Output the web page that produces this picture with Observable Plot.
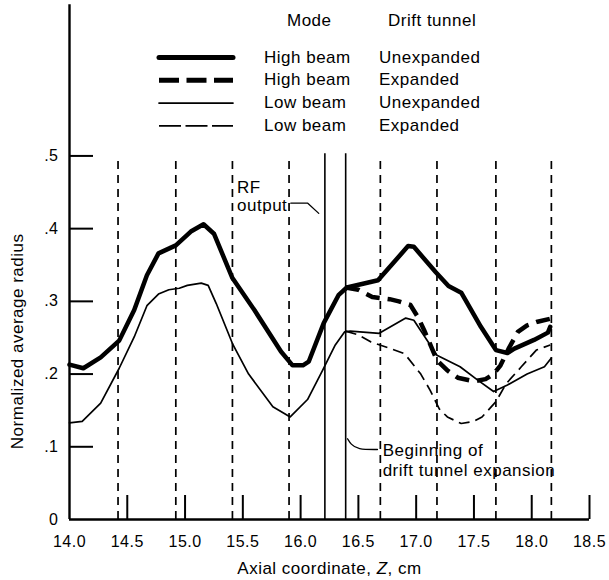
<!DOCTYPE html>
<html>
<head>
<meta charset="utf-8">
<script src="https://cdn.jsdelivr.net/npm/d3@7"></script>
<script src="https://cdn.jsdelivr.net/npm/@observablehq/plot@0.6"></script>
<style>
  html, body { margin: 0; padding: 0; background: #fff; }
  #chart { width: 609px; height: 580px; }
</style>
</head>
<body>
<div id="chart"></div>
<script>
// ---------- data ----------
const xTickValues = [14.0, 14.5, 15.0, 15.5, 16.0, 16.5, 17.0, 17.5, 18.0, 18.5];
const yTickValues = [0, 0.1, 0.2, 0.3, 0.4, 0.5];

// vertical dashed reference lines (axial positions)
const dashedLineZ = [14.42, 14.92, 15.41, 15.90, 16.69, 17.18, 17.69, 18.17];
// solid markers: RF output, beginning of drift tunnel expansion
const solidLineZ = [16.21, 16.39];

// [Z (cm), normalized average radius]
const highBeamUnexpanded = [
  [14.00, .213], [14.12, .208], [14.27, .223], [14.43, .246], [14.56, .288],
  [14.67, .336], [14.77, .366], [14.92, .377], [15.05, .396], [15.16, .406],
  [15.25, .393], [15.41, .332], [15.60, .288], [15.83, .231], [15.93, .212],
  [16.02, .212], [16.07, .217], [16.20, .270], [16.33, .309], [16.40, .319],
  [16.67, .329], [16.93, .376], [16.98, .375], [17.17, .340], [17.28, .321],
  [17.39, .312], [17.56, .265], [17.69, .233], [17.79, .229], [17.85, .235],
  [18.02, .247], [18.14, .257], [18.16, .265]
];
const highBeamExpanded = [
  [16.39, .319], [16.50, .316], [16.62, .306], [16.77, .303], [16.85, .300],
  [16.95, .295], [17.02, .277], [17.07, .260], [17.18, .219], [17.27, .205],
  [17.36, .195], [17.50, .190], [17.60, .193], [17.67, .200], [17.73, .212],
  [17.80, .235], [17.88, .258], [17.96, .267], [18.05, .272], [18.16, .276]
];
const lowBeamUnexpanded = [
  [14.00, .133], [14.11, .135], [14.27, .160], [14.43, .208], [14.56, .251],
  [14.67, .294], [14.77, .310], [14.86, .316], [14.95, .318], [15.02, .322],
  [15.14, .325], [15.20, .322], [15.27, .297], [15.41, .242], [15.55, .200],
  [15.76, .155], [15.91, .141], [16.06, .165], [16.19, .205], [16.30, .240],
  [16.38, .258], [16.43, .259], [16.68, .256], [16.91, .277], [16.98, .274],
  [17.18, .226], [17.38, .210], [17.53, .192], [17.67, .176], [17.79, .185],
  [17.96, .200], [18.11, .210], [18.17, .222]
];
const lowBeamExpanded = [
  [16.39, .259], [16.50, .254], [16.61, .244], [16.78, .235], [16.90, .228],
  [17.04, .200], [17.12, .178], [17.20, .152], [17.27, .141], [17.39, .132],
  [17.50, .135], [17.57, .141], [17.69, .162], [17.78, .187], [17.91, .210],
  [18.04, .233], [18.16, .240]
];

// annotations
const rfLabel = ["RF\noutput"];
const rfLabelAt = [15.45, .424];
const rfLeader = [[15.915, .435], [16.062, .435], [16.157, .421]];
const driftLabel = ["Beginning of\ndrift tunnel expansion"];
const driftLabelAt = [16.71, .0595];
const driftLeader = [[16.406, .111], [16.434, .1036], [16.492, .0963], [16.665, .0963]];

// legend
const legendHeaders = ["Mode", "Drift tunnel"];
const legendModes = ["High beam", "High beam", "Low beam", "Low beam"];
const legendTunnels = ["Unexpanded", "Expanded", "Unexpanded", "Expanded"];

const xTitle = "Axial coordinate, Z, cm";
const yTitle = "Normalized average radius";

// ---------- layout / style ----------
const W = 609, H = 580, ML = 69, MR = 20, MT = 10, MB = 61, TICK = 24;
const FONT = "'Liberation Sans', Arial, Helvetica, sans-serif";
const thick = {strokeWidth: 4.5, strokeLinejoin: "round", strokeLinecap: "round"};
const thin = {strokeWidth: 1.7, strokeLinejoin: "round", strokeLinecap: "round"};
const thickDash = "14,8";
const thinDash = "11,6";

const X = d => d[0], Y = d => d[1];

const chart = Plot.plot({
  width: W, height: H,
  marginLeft: ML, marginRight: MR, marginTop: MT, marginBottom: MB,
  style: {fontFamily: FONT, fontSize: "16px", background: "white", color: "black", overflow: "visible"},
  x: {domain: [14, 18.5], ticks: xTickValues, tickFormat: d3.format(".1f"), tickSize: 0, tickPadding: 16, label: null},
  y: {domain: [0, 0.7], ticks: yTickValues, tickFormat: d => d === 0 ? "0" : d3.format(".1f")(d).slice(1), tickSize: 0, tickPadding: 11, label: null},
  marks: [
    // reference verticals
    Plot.ruleX(dashedLineZ, {x: d => d, y1: 0, y2: 0.5, strokeWidth: 1.7, strokeDasharray: "8,6"}),
    Plot.ruleX(solidLineZ, {x: d => d, y1: 0, y2: 0.503, strokeWidth: 1.6}),
    // axes lines and inward ticks
    Plot.ruleX([14], {x: d => d, y1: 0, y2: 0.708, strokeWidth: 2.4}),
    Plot.ruleY([0], {y: d => d, strokeWidth: 2.4}),
    Plot.ruleX(xTickValues.slice(1), {x: d => d, insetTop: H - MT - MB - TICK, strokeWidth: 2}),
    Plot.ruleY(yTickValues.slice(1), {y: d => d, insetRight: W - ML - MR - TICK, strokeWidth: 2}),
    // curves
    Plot.line(lowBeamExpanded, {x: X, y: Y, ...thin, strokeLinecap: "butt", strokeDasharray: thinDash}),
    Plot.line(lowBeamUnexpanded, {x: X, y: Y, ...thin}),
    Plot.line(highBeamExpanded, {x: X, y: Y, ...thick, strokeLinecap: "butt", strokeDasharray: thickDash}),
    Plot.line(highBeamUnexpanded, {x: X, y: Y, ...thick}),
    // annotations
    Plot.line(rfLeader, {x: X, y: Y, strokeWidth: 1.3}),
    Plot.line(driftLeader, {x: X, y: Y, strokeWidth: 1.3, curve: "basis"}),
    Plot.text(rfLabel, {x: rfLabelAt[0], y: rfLabelAt[1], text: d => d, textAnchor: "start", lineAnchor: "bottom", lineHeight: 1.08, fontSize: 17}),
    Plot.text(driftLabel, {x: driftLabelAt[0], y: driftLabelAt[1], text: d => d, textAnchor: "start", lineAnchor: "bottom", lineHeight: 1.17, fontSize: 17}),
    // axis titles
    Plot.text([xTitle], {frameAnchor: "bottom", text: d => d, dy: 54, lineAnchor: "bottom", textAnchor: "middle", fontSize: 17}),
    Plot.text([yTitle], {frameAnchor: "left", y: 0.245, text: d => d, rotate: -90, dx: -52, textAnchor: "middle", lineAnchor: "middle", fontSize: 17})
  ]
});

const svg = d3.select(chart);
svg.style("letter-spacing", "0.5px");

// italic Z in the x title
svg.selectAll("text").filter(function() { return this.textContent === xTitle; })
  .each(function() {
    const t = d3.select(this);
    t.text(null);
    t.append("tspan").text("Axial coordinate, ");
    t.append("tspan").attr("font-style", "italic").text("Z");
    t.append("tspan").text(", cm");
  });

// legend drawn inside the plot area
const LEG = {x1: 159, x2: 233, modeX: 264, tunnelX: 379, modeHeadX: 287, tunnelHeadX: 388, headY: 26, row0: 62.5, step: 22.8};
const legendStyles = [
  {w: 5, dash: null}, {w: 5, dash: "20,7.5"}, {w: 1.7, dash: null}, {w: 1.7, dash: "22,4.5"}
];
const g = svg.append("g").attr("font-family", FONT).attr("font-size", 17).attr("fill", "black").attr("text-anchor", "start");
g.append("text").attr("x", LEG.modeHeadX).attr("y", LEG.headY).text(legendHeaders[0]);
g.append("text").attr("x", LEG.tunnelHeadX).attr("y", LEG.headY).text(legendHeaders[1]);
legendModes.forEach((m, i) => {
  const by = LEG.row0 + i * LEG.step;
  const s = legendStyles[i];
  g.append("line").attr("x1", LEG.x1).attr("x2", LEG.x2).attr("y1", by - 5).attr("y2", by - 5)
    .attr("stroke", "black").attr("stroke-width", s.w)
    .attr("stroke-linecap", s.dash ? "butt" : "round")
    .attr("stroke-dasharray", s.dash);
  g.append("text").attr("x", LEG.modeX).attr("y", by).text(m);
  g.append("text").attr("x", LEG.tunnelX).attr("y", by).text(legendTunnels[i]);
});

document.getElementById("chart").appendChild(chart);
</script>
</body>
</html>
